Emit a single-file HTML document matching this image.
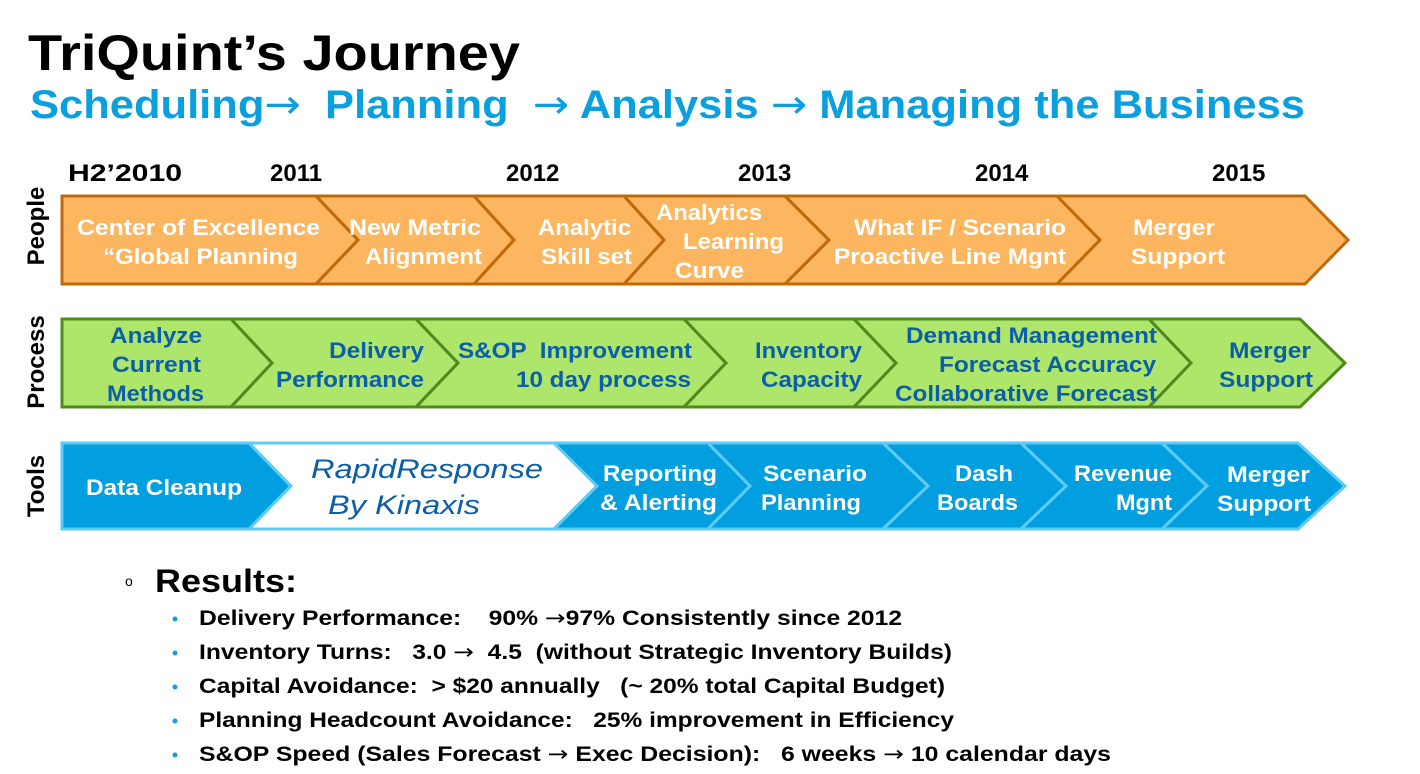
<!DOCTYPE html>
<html><head><meta charset="utf-8"><style>
html,body{margin:0;padding:0;background:#fff;}
svg{display:block;}
text{font-family:"Liberation Sans",Arial,sans-serif;white-space:pre;}
.ar{font-family:"DejaVu Sans",sans-serif;font-weight:normal;}
</style></head><body>
<svg width="1420" height="774" viewBox="0 0 1420 774" xmlns="http://www.w3.org/2000/svg" xml:space="preserve">
<text x="28" y="70" font-size="50" font-weight="bold" fill="#000" textLength="492" lengthAdjust="spacingAndGlyphs">TriQuint’s Journey</text>
<text x="30" y="118" font-size="40" font-weight="bold" fill="#0aa0e0" textLength="1275" lengthAdjust="spacingAndGlyphs">Scheduling<tspan class="ar">→</tspan>  Planning  <tspan class="ar">→</tspan> Analysis <tspan class="ar">→</tspan> Managing the Business</text>
<g font-size="24" font-weight="bold" fill="#000">
<text x="68" y="181" textLength="114" lengthAdjust="spacingAndGlyphs">H2’2010</text>
<text x="270" y="181">2011</text><text x="506" y="181">2012</text><text x="738" y="181">2013</text><text x="975" y="181">2014</text><text x="1212" y="181">2015</text>
</g>
<g font-size="24" font-weight="bold" fill="#000" text-anchor="middle">
<text transform="translate(44,226) rotate(-90)">People</text>
<text transform="translate(44,362) rotate(-90)">Process</text>
<text transform="translate(44,486) rotate(-90)">Tools</text>
</g>
<g fill="#fbb65f" stroke="#c0690a" stroke-width="3">
<polygon points="62,196 316,196 358,240 316,284 62,284"/>
<polygon points="316,196 474,196 514,240 474,284 316,284 358,240"/>
<polygon points="474,196 624,196 664,240 624,284 474,284 514,240"/>
<polygon points="624,196 785,196 829,240 785,284 624,284 664,240"/>
<polygon points="785,196 1057,196 1100,240 1057,284 785,284 829,240"/>
<polygon points="1057,196 1305,196 1348,240 1305,284 1057,284 1100,240"/>
</g>
<g fill="#ade66a" stroke="#4e8a1c" stroke-width="3">
<polygon points="62,319 231,319 272,363 231,407 62,407"/>
<polygon points="231,319 416,319 458,363 416,407 231,407 272,363"/>
<polygon points="416,319 684,319 726,363 684,407 416,407 458,363"/>
<polygon points="684,319 854,319 896,363 854,407 684,407 726,363"/>
<polygon points="854,319 1149,319 1191,363 1149,407 854,407 896,363"/>
<polygon points="1149,319 1300,319 1345,363 1300,407 1149,407 1191,363"/>
</g>
<g stroke="#5ecbf5" stroke-width="3">
<polygon fill="#019fe0" points="62,443 249,443 291,486 249,529 62,529"/>
<polygon fill="#ffffff" points="249,443 554,443 597,486 554,529 249,529 291,486"/>
<polygon fill="#019fe0" points="554,443 708,443 750,486 708,529 554,529 597,486"/>
<polygon fill="#019fe0" points="708,443 883,443 928,486 883,529 708,529 750,486"/>
<polygon fill="#019fe0" points="883,443 1021,443 1066,486 1021,529 883,529 928,486"/>
<polygon fill="#019fe0" points="1021,443 1162,443 1207,486 1162,529 1021,529 1066,486"/>
<polygon fill="#019fe0" points="1162,443 1298,443 1345,486 1298,529 1162,529 1207,486"/>
</g>
<g font-size="22" font-weight="bold" fill="#fff">
<text x="77" y="235" textLength="243" lengthAdjust="spacingAndGlyphs">Center of Excellence</text>
<text x="103" y="264" textLength="195" lengthAdjust="spacingAndGlyphs">“Global Planning</text>
<text x="349" y="235" textLength="132" lengthAdjust="spacingAndGlyphs">New Metric</text>
<text x="365" y="264" textLength="117" lengthAdjust="spacingAndGlyphs">Alignment</text>
<text x="538" y="235" textLength="93" lengthAdjust="spacingAndGlyphs">Analytic</text>
<text x="541" y="264" textLength="91" lengthAdjust="spacingAndGlyphs">Skill set</text>
<text x="656" y="220" textLength="106" lengthAdjust="spacingAndGlyphs">Analytics</text>
<text x="683" y="249" textLength="101" lengthAdjust="spacingAndGlyphs">Learning</text>
<text x="675" y="278" textLength="69" lengthAdjust="spacingAndGlyphs">Curve</text>
<text x="854" y="235" textLength="212" lengthAdjust="spacingAndGlyphs">What IF / Scenario</text>
<text x="834" y="264" textLength="232" lengthAdjust="spacingAndGlyphs">Proactive Line Mgnt</text>
<text x="1133" y="235" textLength="82" lengthAdjust="spacingAndGlyphs">Merger</text>
<text x="1131" y="264" textLength="94" lengthAdjust="spacingAndGlyphs">Support</text>
</g>
<g font-size="22" font-weight="bold" fill="#0b5ea8">
<text x="110" y="343" textLength="92" lengthAdjust="spacingAndGlyphs">Analyze</text>
<text x="112" y="372" textLength="89" lengthAdjust="spacingAndGlyphs">Current</text>
<text x="107" y="401" textLength="97" lengthAdjust="spacingAndGlyphs">Methods</text>
<text x="329" y="358" textLength="95" lengthAdjust="spacingAndGlyphs">Delivery</text>
<text x="276" y="387" textLength="148" lengthAdjust="spacingAndGlyphs">Performance</text>
<text x="458" y="358" textLength="234" lengthAdjust="spacingAndGlyphs">S&amp;OP  Improvement</text>
<text x="516" y="387" textLength="175" lengthAdjust="spacingAndGlyphs">10 day process</text>
<text x="755" y="358" textLength="107" lengthAdjust="spacingAndGlyphs">Inventory</text>
<text x="761" y="387" textLength="101" lengthAdjust="spacingAndGlyphs">Capacity</text>
<text x="906" y="343" textLength="251" lengthAdjust="spacingAndGlyphs">Demand Management</text>
<text x="939" y="372" textLength="217" lengthAdjust="spacingAndGlyphs">Forecast Accuracy</text>
<text x="895" y="401" textLength="262" lengthAdjust="spacingAndGlyphs">Collaborative Forecast</text>
<text x="1229" y="358" textLength="82" lengthAdjust="spacingAndGlyphs">Merger</text>
<text x="1219" y="387" textLength="94" lengthAdjust="spacingAndGlyphs">Support</text>
</g>
<g font-size="22" font-weight="bold" fill="#fff">
<text x="86" y="495" textLength="156" lengthAdjust="spacingAndGlyphs">Data Cleanup</text>
<text x="603" y="481" textLength="114" lengthAdjust="spacingAndGlyphs">Reporting</text>
<text x="600" y="510" textLength="117" lengthAdjust="spacingAndGlyphs">&amp; Alerting</text>
<text x="763" y="481" textLength="104" lengthAdjust="spacingAndGlyphs">Scenario</text>
<text x="761" y="510" textLength="100" lengthAdjust="spacingAndGlyphs">Planning</text>
<text x="955" y="481" textLength="58" lengthAdjust="spacingAndGlyphs">Dash</text>
<text x="937" y="510" textLength="81" lengthAdjust="spacingAndGlyphs">Boards</text>
<text x="1074" y="481" textLength="98" lengthAdjust="spacingAndGlyphs">Revenue</text>
<text x="1116" y="510" textLength="56" lengthAdjust="spacingAndGlyphs">Mgnt</text>
<text x="1227" y="482" textLength="83" lengthAdjust="spacingAndGlyphs">Merger</text>
<text x="1217" y="511" textLength="94" lengthAdjust="spacingAndGlyphs">Support</text>
</g>
<g font-size="27" font-style="italic" fill="#0b5ea8">
<text x="311" y="478" textLength="232" lengthAdjust="spacingAndGlyphs">RapidResponse</text>
<text x="328" y="514" textLength="152" lengthAdjust="spacingAndGlyphs">By Kinaxis</text>
</g>
<text x="125" y="586" font-size="14" fill="#000">o</text>
<text x="155" y="592" font-size="32" font-weight="bold" fill="#000" textLength="142" lengthAdjust="spacingAndGlyphs">Results:</text>
<g fill="#1a9be0">
<circle cx="175" cy="619" r="2.5"/><circle cx="175" cy="653" r="2.5"/><circle cx="175" cy="687" r="2.5"/><circle cx="175" cy="721" r="2.5"/><circle cx="175" cy="755" r="2.5"/>
</g>
<g font-size="21" font-weight="bold" fill="#000">
<text x="199" y="625" textLength="703" lengthAdjust="spacingAndGlyphs">Delivery Performance:    90% <tspan class="ar">→</tspan>97% Consistently since 2012</text>
<text x="199" y="659" textLength="753" lengthAdjust="spacingAndGlyphs">Inventory Turns:   3.0 <tspan class="ar">→</tspan>  4.5  (without Strategic Inventory Builds)</text>
<text x="199" y="693" textLength="746" lengthAdjust="spacingAndGlyphs">Capital Avoidance:  &gt; $20 annually   (~ 20% total Capital Budget)</text>
<text x="199" y="727" textLength="755" lengthAdjust="spacingAndGlyphs">Planning Headcount Avoidance:   25% improvement in Efficiency</text>
<text x="199" y="761" textLength="912" lengthAdjust="spacingAndGlyphs">S&amp;OP Speed (Sales Forecast <tspan class="ar">→</tspan> Exec Decision):   6 weeks <tspan class="ar">→</tspan> 10 calendar days</text>
</g>
</svg>
</body></html>
